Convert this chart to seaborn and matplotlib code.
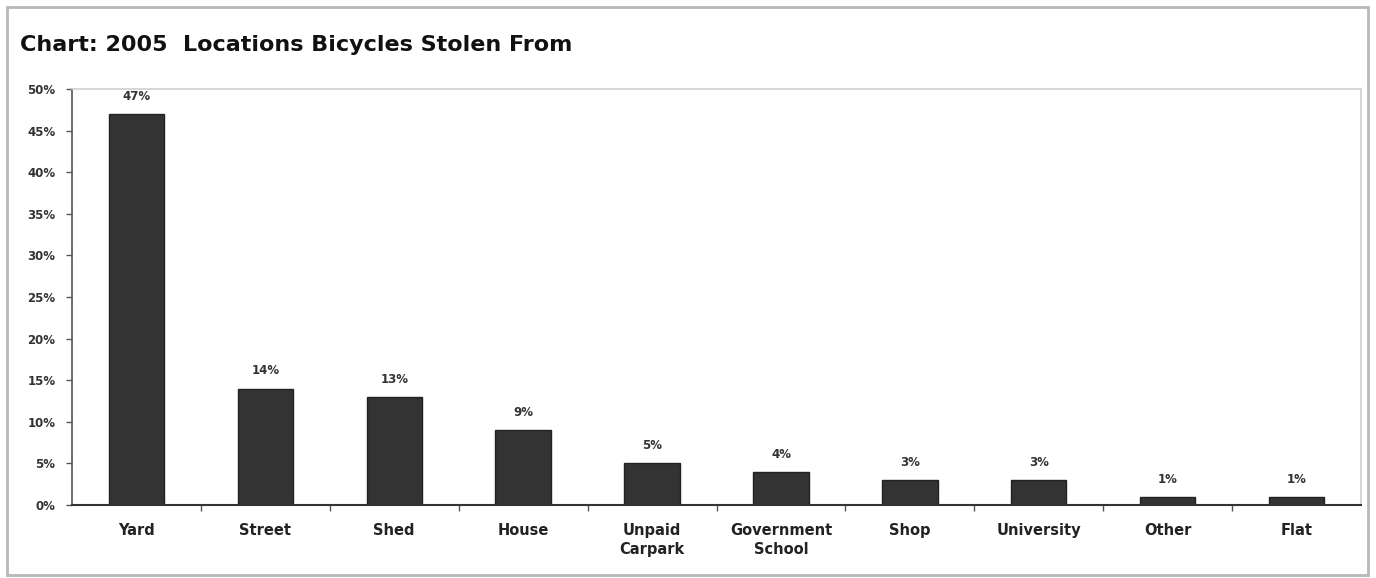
import matplotlib
matplotlib.use("Agg")
import matplotlib.pyplot as plt
import seaborn as sns
import pandas as pd
from matplotlib.patches import Rectangle

categories = ["Yard", "Street", "Shed", "House", "Unpaid\nCarpark", "Government\nSchool",
              "Shop", "University", "Other", "Flat"]
values = [47, 14, 13, 9, 5, 4, 3, 3, 1, 1]
y_ticks = [0, 5, 10, 15, 20, 25, 30, 35, 40, 45, 50]
y_tick_labels = [f"{t}%" for t in y_ticks]
title = "Chart: 2005  Locations Bicycles Stolen From"

sns.set_theme(style="white")
plt.rcParams['font.family'] = ['DejaVu Sans']

df = pd.DataFrame({"cat": categories, "val": values})

W, H = 1376, 578
fig = plt.figure(figsize=(W / 100, H / 100), dpi=100)
fig.patch.set_facecolor("white")

# outer frame
fig.patches.append(Rectangle((7 / W, 3 / H), 1361 / W, 568 / H, transform=fig.transFigure,
                             fill=False, edgecolor="#b8b8b8", linewidth=2.0))

left, right, top, bottom = 72, 1361, 89, 505
ax = fig.add_axes([left / W, 1 - bottom / H, (right - left) / W, (bottom - top) / H])

sns.barplot(data=df, x="cat", y="val", ax=ax, color="#333333", width=0.43,
            edgecolor="#222222", linewidth=1.0, saturation=1)

ax.set_ylim(0, 50)
ax.set_xlim(-0.5, len(categories) - 0.5)
ax.set_yticks(y_ticks)
ax.set_yticklabels(y_tick_labels, fontsize=8.5, color="#333333", fontweight="bold")
ax.set_xticks(range(len(categories)))
ax.set_xticklabels(categories, fontsize=10.5, color="#222222", fontweight="bold", linespacing=1.35)
ax.set_xlabel("")
ax.set_ylabel("")

for i, v in enumerate(values):
    ax.annotate(f"{v}%", (i, v), xytext=(0, 8), textcoords="offset points",
                ha="center", va="bottom", fontsize=8.5, color="#333333", fontweight="bold")

for s in ["top", "right"]:
    ax.spines[s].set_color("#d0d0d0")
    ax.spines[s].set_linewidth(1.2)
ax.spines["left"].set_color("#555555")
ax.spines["left"].set_linewidth(1.2)
ax.spines["bottom"].set_color("#333333")
ax.spines["bottom"].set_linewidth(1.5)

ax.tick_params(axis="y", which="major", length=4, width=1, color="#555555", left=True, pad=8)
ax.tick_params(axis="x", which="major", length=0, pad=13)
# minor ticks between categories on x axis
ax.set_xticks([i + 0.5 for i in range(len(categories) - 1)], minor=True)
ax.tick_params(axis="x", which="minor", length=4, width=1, color="#555555", bottom=True)

fig.text(20 / W, 1 - 45 / H, title, fontsize=16, fontweight="bold", color="#111111",
         ha="left", va="center")

fig.savefig("out.png", dpi=100, facecolor="white")
